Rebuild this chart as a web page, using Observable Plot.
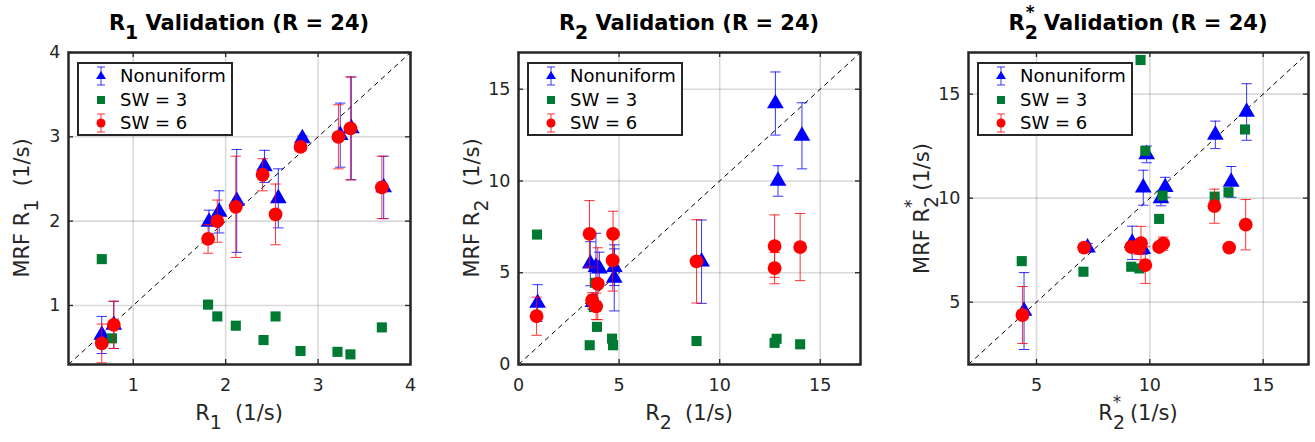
<!DOCTYPE html>
<html><head><meta charset="utf-8">
<script src="https://cdn.jsdelivr.net/npm/d3@7"></script>
<script src="https://cdn.jsdelivr.net/npm/@observablehq/plot@0.6"></script>
<style>
body{margin:0;background:#fff;font-family:"DejaVu Sans",sans-serif;color:#262626}
#wrap{position:relative;width:1315px;height:442px;overflow:hidden;background:#fff}
.panel{position:absolute;top:0;height:442px}
.panel svg{position:absolute;left:0;top:0}
.title{position:absolute;top:13px;font-weight:bold;font-size:21px;line-height:21px;white-space:nowrap;transform:translateX(-50%);color:#000}
.xlab{position:absolute;top:402px;font-size:21px;line-height:22px;white-space:nowrap;transform:translateX(-50%)}
.ylab{position:absolute;width:300px;text-align:center;font-size:21px;line-height:22px;white-space:nowrap;transform:rotate(-90deg)}
.sb{font-size:0.9em;position:relative;top:0.45em}
.sp{font-size:0.8em;position:relative;top:-0.7em;margin-left:-0.72em;margin-right:0.12em}
.legend{position:absolute;box-sizing:border-box;width:156px;height:74px;border:2px solid #262626;background:#fff}
.legend .row{position:absolute;left:0;height:22px;width:150px}
.legend svg{position:absolute;left:11px;top:0}
.legend span{position:absolute;left:41px;top:1px;font-size:18px;line-height:20px;color:#000;white-space:nowrap}
</style>
</head><body>
<div id="wrap"></div>
<script>
// ---------- data: R1 panel ----------
const r1Domain = [0.3, 4];
const r1Ticks = [1, 2, 3, 4];
const r1NuX   = [0.66, 0.79, 1.82, 1.93, 2.12, 2.42, 2.57, 2.83, 3.24, 3.36, 3.71];
const r1NuY   = [0.65, 0.77, 1.99, 2.11, 2.24, 2.65, 2.27, 2.98, 3.02, 3.10, 2.40];
const r1NuErr = [0.22, 0.28, 0.14, 0.25, 0.61, 0.19, 0.35, 0.03, 0.38, 0.61, 0.37];
const r1Sw3X  = [0.66, 0.77, 1.81, 1.91, 2.11, 2.41, 2.54, 2.81, 3.21, 3.35, 3.69];
const r1Sw3Y  = [1.55, 0.61, 1.01, 0.87, 0.76, 0.59, 0.87, 0.46, 0.45, 0.42, 0.74];
const r1Sw6X  = [0.66, 0.79, 1.81, 1.91, 2.11, 2.40, 2.54, 2.81, 3.22, 3.35, 3.69];
const r1Sw6Y  = [0.55, 0.77, 1.79, 2.00, 2.17, 2.55, 2.08, 2.88, 3.00, 3.10, 2.40];
const r1Sw6Err= [0.23, 0.28, 0.17, 0.25, 0.60, 0.19, 0.36, 0.03, 0.38, 0.61, 0.37];

// ---------- data: R2 panel ----------
const r2Domain = [0, 17];
const r2Ticks = [0, 5, 10, 15];
const r2NuX   = [0.95, 3.57, 3.70, 3.85, 4.02, 4.76, 4.76, 9.10, 12.77, 12.90, 14.09];
const r2NuY   = [3.35, 5.49, 3.40, 5.30, 5.22, 5.30, 4.72, 5.60, 14.22, 10.00, 12.46];
const r2NuErr = [1.00, 1.20, 0.40, 1.85, 0.90, 1.00, 1.80, 2.27, 1.72, 0.83, 1.80];
const r2Sw3X  = [0.92, 3.54, 3.75, 3.80, 3.90, 4.65, 4.70, 8.85, 12.73, 12.83, 14.00];
const r2Sw3Y  = [7.08, 1.05, 3.13, 4.45, 2.05, 1.41, 1.05, 1.28, 1.18, 1.40, 1.10];
const r2Sw6X  = [0.90, 3.53, 3.66, 3.86, 3.94, 4.70, 4.68, 8.85, 12.73, 12.73, 14.00];
const r2Sw6Y  = [2.63, 7.12, 3.49, 3.17, 4.40, 7.12, 5.67, 5.62, 6.45, 5.25, 6.40];
const r2Sw6Err= [1.04, 1.81, 0.42, 0.72, 1.96, 1.23, 1.67, 2.27, 1.70, 0.85, 1.83];

// ---------- data: R2* panel ----------
const r2sDomain = [2, 17];
const r2sTicks = [5, 10, 15];
const r2sNuX   = [4.45, 7.25, 9.22, 9.69, 9.71, 9.86, 10.49, 10.68, 12.89, 13.59, 14.27];
const r2sNuY   = [4.57, 7.62, 7.85, 7.55, 10.50, 12.10, 9.98, 10.52, 13.04, 10.78, 14.14];
const r2sNuErr = [1.85, 0.20, 0.80, 0.25, 0.84, 0.40, 0.35, 0.48, 0.66, 0.74, 1.36];
const r2sSw3X  = [4.35, 7.07, 9.18, 9.54, 9.59, 9.80, 10.41, 10.56, 12.86, 13.47, 14.20];
const r2sSw3Y  = [6.97, 6.46, 6.70, 6.62, 16.64, 12.27, 9.00, 10.12, 10.07, 10.28, 13.30];
const r2sSw6X  = [4.38, 7.10, 9.18, 9.50, 9.61, 9.80, 10.41, 10.59, 12.85, 13.50, 14.23];
const r2sSw6Y  = [4.38, 7.62, 7.65, 7.60, 7.84, 6.78, 7.65, 7.81, 9.61, 7.62, 8.72];
const r2sSw6Err= [1.37, 0.10, 0.20, 0.30, 0.80, 0.88, 0.20, 0.32, 0.82, 0.10, 1.21];

const seriesNames = ["Nonuniform", "SW = 3", "SW = 6"];
const colNU = "#0000ff", colSW3 = "#007a33", colSW6 = "#ff0000";

// ---------- drawing ----------
const capSymbol = {draw(ctx, size) { const r = Math.sqrt(size / Math.PI); ctx.moveTo(-r, 0); ctx.lineTo(r, 0); }};
const H = 442, MT = 52, MB = 78, ML = 68;
const fmt = d => String(d);

function errMarks(data, color) {
  return [
    Plot.ruleX(data, {x: "x", y1: d => d.y - d.e, y2: d => d.y + d.e, stroke: color, strokeWidth: 1, strokeOpacity: 0.8}),
    Plot.dot(data, {x: "x", y: d => d.y + d.e, symbol: capSymbol, r: 5.2, fill: "none", stroke: color, strokeWidth: 1, strokeOpacity: 0.8}),
    Plot.dot(data, {x: "x", y: d => d.y - d.e, symbol: capSymbol, r: 5.2, fill: "none", stroke: color, strokeWidth: 1, strokeOpacity: 0.8})
  ];
}

function makePanel(cfg) {
  const zip3 = (xs, ys, es) => xs.map((x, i) => ({x, y: ys[i], e: es ? es[i] : 0}));
  const nu = zip3(cfg.nuX, cfg.nuY, cfg.nuErr);
  const sw3 = zip3(cfg.sw3X, cfg.sw3Y);
  const sw6 = zip3(cfg.sw6X, cfg.sw6Y, cfg.sw6Err);
  const pw = cfg.width - ML - cfg.mr, ph = H - MT - MB;
  const tickStyle = {stroke: "#262626", strokeWidth: 1.3};
  return Plot.plot({
    width: cfg.width, height: H,
    marginTop: MT, marginBottom: MB, marginLeft: ML, marginRight: cfg.mr,
    x: {domain: cfg.domain, nice: false},
    y: {domain: cfg.domain, nice: false},
    style: {fontFamily: "DejaVu Sans", fontSize: "17.5px", color: "#262626", background: "transparent", overflow: "visible"},
    marks: [
      Plot.gridX(cfg.ticks, {stroke: "#000", strokeOpacity: 0.15, strokeWidth: 1.6}),
      Plot.gridY(cfg.ticks, {stroke: "#000", strokeOpacity: 0.15, strokeWidth: 1.6}),
      Plot.link([cfg.domain], {x1: d => d[0], y1: d => d[0], x2: d => d[1], y2: d => d[1], stroke: "#000", strokeWidth: 1, strokeDasharray: "5,4"}),
      ...errMarks(nu, colNU),
      Plot.dot(nu, {x: "x", y: "y", symbol: "triangle", r: 6.2, fill: colNU}),
      Plot.dot(sw3, {x: "x", y: "y", symbol: "square", r: 5.7, fill: colSW3}),
      ...errMarks(sw6, colSW6),
      Plot.dot(sw6, {x: "x", y: "y", symbol: "circle", r: 6.9, fill: colSW6}),
      Plot.tickX(cfg.ticks, {x: d => d, insetTop: ph - 5, ...tickStyle}),
      Plot.tickX(cfg.ticks, {x: d => d, insetBottom: ph - 5, ...tickStyle}),
      Plot.tickY(cfg.ticks, {y: d => d, insetRight: pw - 5, ...tickStyle}),
      Plot.tickY(cfg.ticks, {y: d => d, insetLeft: pw - 5, ...tickStyle}),
      Plot.axisX({ticks: cfg.ticks, tickFormat: fmt, tickSize: 0, tickPadding: 14, label: null, fontSize: 17.5}),
      Plot.axisY({ticks: cfg.ticks, tickFormat: fmt, tickSize: 0, tickPadding: 8, label: null, fontSize: 17.5}),
      Plot.frame({stroke: "#262626", strokeWidth: 2.5})
    ]
  });
}

function legendHTML() {
  const nuSvg = `<svg width="22" height="22"><line x1="11" y1="2" x2="11" y2="20" stroke="${colNU}" stroke-opacity="0.8"/><line x1="7" y1="2" x2="15" y2="2" stroke="${colNU}" stroke-opacity="0.8"/><line x1="7" y1="20" x2="15" y2="20" stroke="${colNU}" stroke-opacity="0.8"/><path d="M11,6 L16,14 L6,14 Z" fill="${colNU}"/></svg>`;
  const sw3Svg = `<svg width="22" height="22"><rect x="7" y="7" width="8" height="8" fill="${colSW3}"/></svg>`;
  const sw6Svg = `<svg width="22" height="22"><line x1="11" y1="2" x2="11" y2="20" stroke="${colSW6}" stroke-opacity="0.8"/><line x1="7" y1="2" x2="15" y2="2" stroke="${colSW6}" stroke-opacity="0.8"/><line x1="7" y1="20" x2="15" y2="20" stroke="${colSW6}" stroke-opacity="0.8"/><circle cx="11" cy="11" r="4.5" fill="${colSW6}"/></svg>`;
  const svgs = [nuSvg, sw3Svg, sw6Svg];
  return seriesNames.map((n, i) => `<div class="row" style="top:${1 + i * 23.5}px">${svgs[i]}<span>${n}</span></div>`).join("");
}

const panels = [
  {left: 0, width: 450, mr: 40, domain: r1Domain, ticks: r1Ticks,
   nuX: r1NuX, nuY: r1NuY, nuErr: r1NuErr, sw3X: r1Sw3X, sw3Y: r1Sw3Y, sw6X: r1Sw6X, sw6Y: r1Sw6Y, sw6Err: r1Sw6Err,
   title: 'R<span class="sb">1</span> Validation (R = 24)',
   xlab: 'R<span class="sb">1</span>&nbsp; (1/s)', ylab: 'MRF R<span class="sb">1</span>&nbsp; (1/s)'},
  {left: 450, width: 450, mr: 40, domain: r2Domain, ticks: r2Ticks,
   nuX: r2NuX, nuY: r2NuY, nuErr: r2NuErr, sw3X: r2Sw3X, sw3Y: r2Sw3Y, sw6X: r2Sw6X, sw6Y: r2Sw6Y, sw6Err: r2Sw6Err,
   title: 'R<span class="sb">2</span> Validation (R = 24)',
   xlab: 'R<span class="sb">2</span>&nbsp; (1/s)', ylab: 'MRF R<span class="sb">2</span>&nbsp; (1/s)'},
  {left: 900, width: 415, mr: 7, domain: r2sDomain, ticks: r2sTicks,
   nuX: r2sNuX, nuY: r2sNuY, nuErr: r2sNuErr, sw3X: r2sSw3X, sw3Y: r2sSw3Y, sw6X: r2sSw6X, sw6Y: r2sSw6Y, sw6Err: r2sSw6Err,
   title: 'R<span class="sb">2</span><span class="sp">*</span> Validation (R = 24)',
   xlab: 'R<span class="sb">2</span><span class="sp">*</span> (1/s)', ylab: 'MRF R<span class="sb">2</span><span class="sp">*</span> (1/s)'}
];

const wrap = document.getElementById("wrap");
for (const cfg of panels) {
  const div = document.createElement("div");
  div.className = "panel";
  div.style.left = cfg.left + "px";
  div.style.width = cfg.width + "px";
  div.appendChild(makePanel(cfg));
  const cx = ML + (cfg.width - ML - cfg.mr) / 2;
  const cy = MT + (H - MT - MB) / 2;
  const t = document.createElement("div"); t.className = "title"; t.style.left = cx + "px"; t.innerHTML = cfg.title; div.appendChild(t);
  const xl = document.createElement("div"); xl.className = "xlab"; xl.style.left = cx + "px"; xl.innerHTML = cfg.xlab; div.appendChild(xl);
  const yl = document.createElement("div"); yl.className = "ylab"; yl.style.left = (22 - 150) + "px"; yl.style.top = (cy - 11) + "px"; yl.innerHTML = cfg.ylab; div.appendChild(yl);
  const lg = document.createElement("div"); lg.className = "legend"; lg.style.left = (ML + 9) + "px"; lg.style.top = (MT + 10) + "px"; lg.innerHTML = legendHTML(); div.appendChild(lg);
  wrap.appendChild(div);
}
</script>
</body></html>
